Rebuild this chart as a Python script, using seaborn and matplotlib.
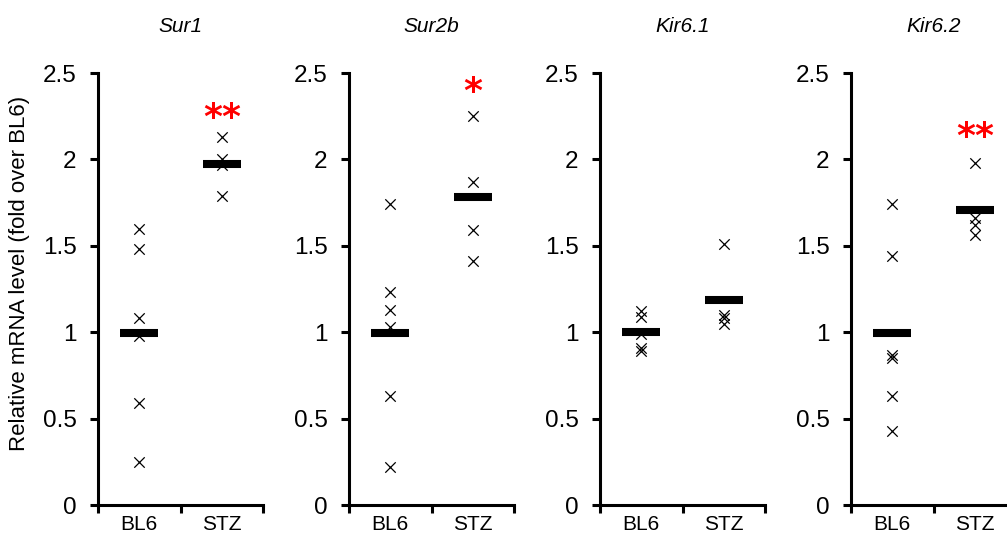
import numpy as np
import pandas as pd
import matplotlib
matplotlib.use("Agg")
import matplotlib.pyplot as plt
import seaborn as sns

# ---- data ----
genes = ["Sur1", "Sur2b", "Kir6.1", "Kir6.2"]
groups = ["BL6", "STZ"]

sur1_bl6 = [1.60, 1.48, 1.08, 0.98, 0.59, 0.25]
sur1_stz = [2.13, 2.00, 1.97, 1.79]
sur2b_bl6 = [1.74, 1.23, 1.13, 1.03, 0.63, 0.22]
sur2b_stz = [2.25, 1.87, 1.59, 1.41]
kir61_bl6 = [1.12, 1.09, 0.99, 0.91, 0.89]
kir61_stz = [1.51, 1.10, 1.08, 1.05]
kir62_bl6 = [1.74, 1.44, 0.87, 0.85, 0.63, 0.43]
kir62_stz = [1.98, 1.66, 1.62, 1.56]

star_labels = ["**", "*", "", "**"]
star_values = [2.30, 2.45, None, 2.19]

y_ticks = [0, 0.5, 1, 1.5, 2, 2.5]
y_tick_labels = ["0", "0.5", "1", "1.5", "2", "2.5"]
ylabel = "Relative mRNA level (fold over BL6)"

series = {
    "Sur1": (sur1_bl6, sur1_stz),
    "Sur2b": (sur2b_bl6, sur2b_stz),
    "Kir6.1": (kir61_bl6, kir61_stz),
    "Kir6.2": (kir62_bl6, kir62_stz),
}

rows = []
for g in genes:
    for grp, vals in zip(groups, series[g]):
        for v in vals:
            rows.append({"gene": g, "group": grp, "value": v})
df = pd.DataFrame(rows)

# ---- style ----
sns.set_style("ticks")
plt.rcParams["font.family"] = ["Liberation Sans", "DejaVu Sans"]
plt.rcParams["axes.linewidth"] = 2.2
plt.rcParams["text.color"] = "black"
plt.rcParams["xtick.color"] = "black"
plt.rcParams["ytick.color"] = "black"
plt.rcParams["xtick.labelcolor"] = "black"
plt.rcParams["ytick.labelcolor"] = "black"

W, H = 1007, 534
fig = plt.figure(figsize=(W / 100, H / 100), dpi=100)

lefts_px = [98, 349, 600, 851]
ax_w_px, top_px, bottom_px = 165, 73, 505

for i, g in enumerate(genes):
    ax = fig.add_axes([lefts_px[i] / W, (H - bottom_px) / H,
                       ax_w_px / W, (bottom_px - top_px) / H])
    sub = df[df["gene"] == g]
    sns.stripplot(data=sub, x="group", y="value", order=groups, jitter=False,
                  marker="x", color="black", size=7.5, linewidth=0.9, ax=ax,
                  zorder=2)
    sns.pointplot(data=sub, x="group", y="value", order=groups,
                  estimator="mean", errorbar=None, color="black",
                  marker="_", markersize=28, markeredgewidth=5.8,
                  linestyle="none", ax=ax, zorder=3)

    ax.set_xlim(-0.5, 1.5)
    ax.set_ylim(0, 2.5)
    ax.set_yticks(y_ticks)
    ax.set_yticklabels(y_tick_labels, fontsize=17.5, color="black")
    ax.set_xticks([0, 1])
    ax.set_xticklabels(groups, fontsize=15, color="black")
    ax.set_xticks([-0.5, 0.5, 1.5], minor=True)
    ax.tick_params(axis="x", which="major", length=0, pad=7)
    ax.tick_params(axis="x", which="minor", length=5.5, width=2.2,
                   direction="out", color="black")
    ax.tick_params(axis="y", which="major", length=5.5, width=2.2,
                   direction="out", pad=10, color="black")
    ax.set_xlabel("")
    ax.set_ylabel("")
    for s in ["top", "right"]:
        ax.spines[s].set_visible(False)
    for s in ["left", "bottom"]:
        ax.spines[s].set_color("black")
        ax.spines[s].set_linewidth(2.2)
    ax.set_facecolor("white")

    ax.text(0.5, 1 + (top_px - 32) / (bottom_px - top_px), g,
            transform=ax.transAxes, ha="center", va="baseline",
            fontsize=15, style="italic", color="black")

    if star_labels[i]:
        fs = 26
        ax.annotate(star_labels[i], xy=(1, star_values[i]), xycoords="data",
                    xytext=(0, -0.56 * fs), textcoords="offset points",
                    ha="center", va="baseline", fontsize=fs,
                    fontweight="bold", color="#ff0000",
                    family=["DejaVu Sans"])

fig.text(20 / W, 1 - 273 / H, ylabel, rotation=90, ha="center", va="center",
         fontsize=16, color="black")

fig.savefig("out.png", dpi=100, facecolor="white")
